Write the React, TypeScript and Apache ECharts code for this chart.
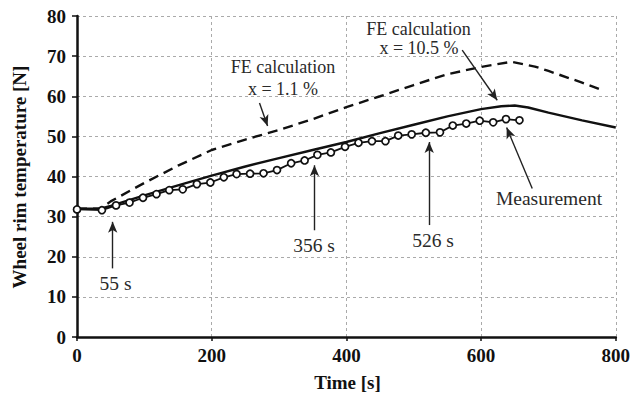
import React, { useEffect, useRef } from "react";
import * as echarts from "echarts";

const xTicks = [0, 200, 400, 600, 800];
const yTicks = [0, 10, 20, 30, 40, 50, 60, 70, 80];

const measTime = [0, 37, 58, 78, 98, 118, 137, 157, 178, 198, 218, 237, 257, 277, 297, 318, 338, 357, 377, 398, 418, 438, 458, 477, 497, 518, 539, 558, 578, 598, 618, 637, 657];
const measTemp = [31.8, 31.6, 32.8, 33.5, 34.7, 35.6, 36.6, 36.8, 38.1, 38.5, 39.8, 40.6, 40.7, 40.8, 41.6, 43.3, 44.0, 45.4, 46.0, 47.4, 48.4, 48.8, 48.8, 50.2, 50.5, 50.9, 51.0, 52.7, 53.2, 53.9, 53.5, 54.3, 54.0];

const fe105Time = [0, 35, 50, 100, 150, 200, 250, 300, 350, 400, 450, 500, 550, 600, 630, 650, 670, 700, 750, 800];
const fe105Temp = [32, 32, 32.7, 35.3, 37.8, 40.2, 42.5, 44.6, 46.6, 48.6, 50.8, 52.9, 55.0, 56.8, 57.5, 57.7, 57.2, 55.9, 54.0, 52.2];

const fe11Time = [0, 35, 50, 100, 150, 200, 250, 300, 350, 400, 450, 500, 550, 600, 645, 680, 700, 750, 780];
const fe11Temp = [32, 32, 33.8, 38.4, 42.7, 46.6, 49.2, 51.6, 54.3, 57.3, 60.0, 62.8, 65.5, 67.3, 68.6, 67.4, 66.3, 63.4, 61.5];

// annotation arrows in data coordinates: [fromT, fromY, toT, toY]
const arrows = [
  [271, 58.3, 283, 52.6],
  [572, 71.5, 624, 59.0],
  [676, 37.0, 638, 52.2],
  [53, 17.1, 53, 28.7],
  [352.6, 26.6, 352.6, 42.8],
  [523, 27.9, 523, 48.6],
];

const SERIF = "Liberation Serif";

export default function App() {
  const ref = useRef<HTMLDivElement>(null);
  useEffect(() => {
    if (!ref.current) return;
    const chart = echarts.init(ref.current, undefined, { renderer: "svg" });
    const zip = (a: number[], b: number[]) => a.map((v, i) => [v, b[i]]);
    const annColor = "#2a2a2a";
    const feFont = { fontFamily: SERIF, fontSize: 18, fill: annColor, textAlign: "center", textVerticalAlign: "middle" };
    const annFont = { fontFamily: SERIF, fontSize: 19.5, fill: annColor, textAlign: "center", textVerticalAlign: "middle" };
    chart.setOption({
      animation: false,
      backgroundColor: "#fff",
      textStyle: { fontFamily: SERIF },
      grid: { left: 77, right: 16, top: 16, bottom: 57, containLabel: false },
      xAxis: {
        type: "value",
        min: 0,
        max: 800,
        interval: 200,
        axisLine: { show: true, onZero: false, lineStyle: { color: "#111", width: 2.5 } },
        axisTick: { show: true, length: 4, lineStyle: { color: "#111", width: 1.5 } },
        axisLabel: { color: "#111", fontFamily: SERIF, fontWeight: "bold", fontSize: 19, margin: 9,
          formatter: (v: number) => (xTicks.includes(v) ? String(v) : "") },
        splitLine: { show: true, lineStyle: { color: "#aaa", type: [3, 3], width: 1 } },
      },
      yAxis: {
        type: "value",
        min: 0,
        max: 80,
        interval: 10,
        axisLine: { show: true, onZero: false, lineStyle: { color: "#111", width: 2.5 } },
        axisTick: { show: true, length: 5, lineStyle: { color: "#111", width: 1.5 } },
        axisLabel: { color: "#111", fontFamily: SERIF, fontWeight: "bold", fontSize: 19, margin: 11,
          formatter: (v: number) => (yTicks.includes(v) ? String(v) : "") },
        splitLine: { show: true, lineStyle: { color: "#aaa", type: [3, 3], width: 1 } },
      },
      series: [
        {
          type: "line",
          data: zip(fe11Time, fe11Temp),
          showSymbol: false,
          lineStyle: { color: "#111", width: 2.4, type: [10, 6] },
          z: 3,
        },
        {
          type: "line",
          data: zip(fe105Time, fe105Temp),
          showSymbol: false,
          lineStyle: { color: "#111", width: 2.4 },
          z: 4,
        },
        {
          type: "line",
          data: zip(measTime, measTemp),
          symbol: "circle",
          symbolSize: 7,
          showSymbol: true,
          itemStyle: { color: "#fff", borderColor: "#111", borderWidth: 1.7 },
          lineStyle: { color: "#111", width: 1.8 },
          z: 5,
          markLine: {
            silent: true,
            symbol: ["none", "arrow"],
            symbolSize: [7, 11],
            label: { show: false },
            lineStyle: { color: "#222", width: 1.4, type: "solid" },
            data: arrows.map((a) => [
              { coord: [a[0], a[1]] },
              { coord: [a[2], a[3]] },
            ]),
          },
        },
      ],
      graphic: [
        { type: "text", x: 283, y: 67, style: { text: "FE calculation", ...feFont } },
        { type: "text", x: 283, y: 89, style: { text: "x = 1.1 %", ...feFont } },
        { type: "text", x: 418.5, y: 29, style: { text: "FE calculation", ...feFont } },
        { type: "text", x: 419, y: 48, style: { text: "x = 10.5 %", ...feFont } },
        { type: "text", x: 549, y: 198, style: { text: "Measurement", ...annFont } },
        { type: "text", x: 115.5, y: 283, style: { text: "55 s", ...annFont } },
        { type: "text", x: 314, y: 245, style: { text: "356 s", ...annFont } },
        { type: "text", x: 433, y: 240, style: { text: "526 s", ...annFont } },
        { type: "text", x: 347.5, y: 382, style: { text: "Time [s]", fontFamily: SERIF, fontWeight: "bold", fontSize: 19, fill: "#111", textAlign: "center", textVerticalAlign: "middle" } },
        { type: "text", x: 19, y: 177, rotation: Math.PI / 2, style: { text: "Wheel rim temperature [N]", fontFamily: SERIF, fontWeight: "bold", fontSize: 19, fill: "#111", textAlign: "center", textVerticalAlign: "middle" } },
      ],
    });
    return () => chart.dispose();
  }, []);
  return <div ref={ref} style={{ width: 633, height: 394, position: "absolute", left: 0, top: 0 }} />;
}
